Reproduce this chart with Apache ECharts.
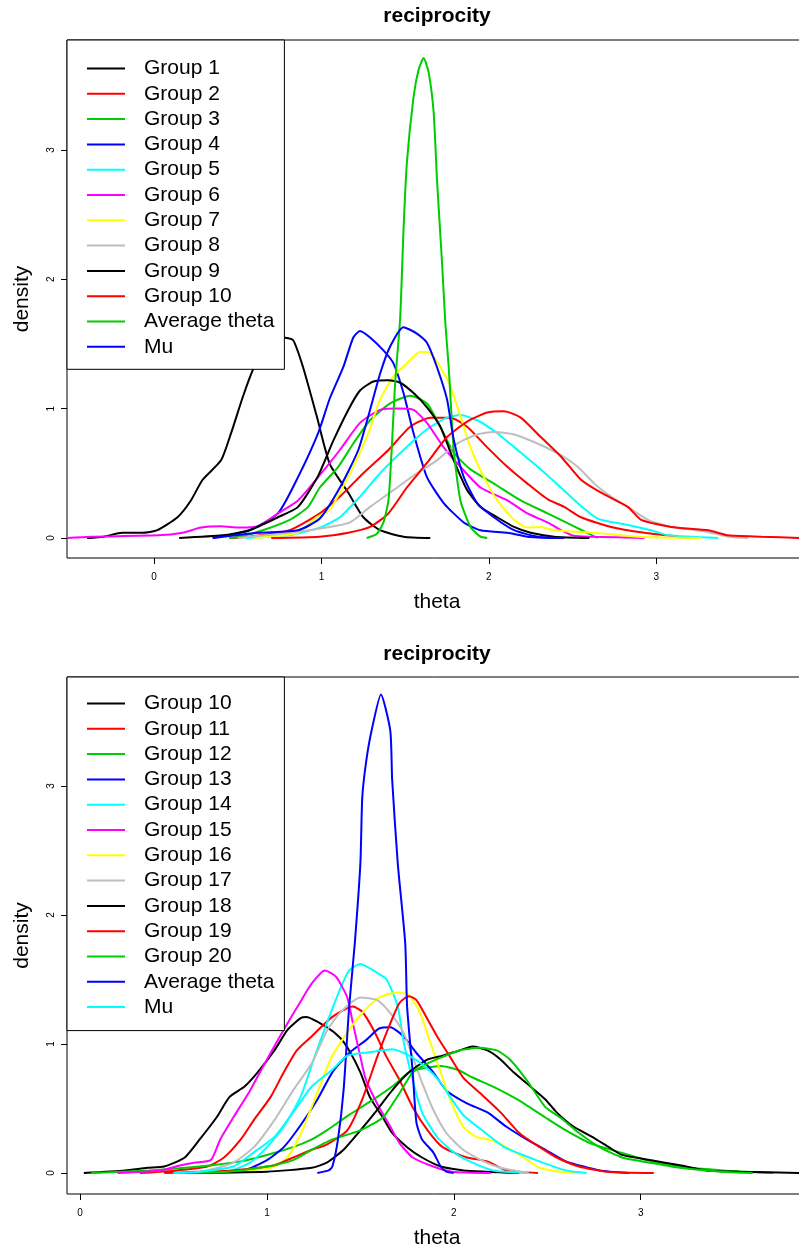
<!DOCTYPE html>
<html>
<head>
<meta charset="utf-8">
<script src="https://cdn.jsdelivr.net/npm/echarts@6/dist/echarts.min.js"></script>
<style>
  html, body { margin: 0; padding: 0; background: #fff; }
  .plot { width: 799px; }
</style>
</head>
<body>
<div id="top" class="plot" style="height:625px"></div>
<div id="bottom" class="plot" style="height:624px"></div>
<script>
// tick labels
const tickX = [0, 1, 2, 3];
const tickY = [0, 1, 2, 3];

// ---- top plot: groups 1-10 (theta, density) ----
const a_g1 = [[-0.40,0],[-0.30,0.01],[-0.19,0.04],[-0.07,0.04],[0.02,0.06],[0.14,0.16],[0.22,0.29],[0.29,0.45],[0.40,0.60],[0.46,0.81],[0.53,1.09],[0.59,1.30],[0.65,1.45],[0.72,1.53],[0.77,1.55],[0.83,1.53],[0.89,1.32],[0.97,0.95],[1.05,0.57],[1.16,0.35],[1.25,0.16],[1.35,0.06],[1.49,0.01],[1.65,0]];
const a_g2 = [[0.45,0],[0.57,0.01],[0.81,0.06],[0.99,0.19],[1.11,0.32],[1.25,0.50],[1.40,0.68],[1.53,0.86],[1.65,0.93],[1.77,0.93],[1.87,0.86],[1.99,0.70],[2.11,0.55],[2.23,0.42],[2.35,0.30],[2.45,0.24],[2.55,0.16],[2.73,0.085],[2.93,0.04],[3.13,0.01],[3.20,0]];
const a_g3 = [[0.45,0],[0.51,0.01],[0.65,0.06],[0.81,0.14],[0.92,0.24],[0.99,0.39],[1.10,0.55],[1.19,0.73],[1.29,0.91],[1.41,1.04],[1.53,1.10],[1.63,1.04],[1.71,0.86],[1.79,0.66],[1.89,0.53],[2.03,0.42],[2.19,0.29],[2.35,0.19],[2.43,0.14],[2.57,0.05],[2.65,0]];
const a_g4 = [[0.35,0],[0.57,0.06],[0.74,0.19],[0.86,0.47],[0.98,0.81],[1.05,1.08],[1.13,1.32],[1.19,1.55],[1.23,1.60],[1.29,1.55],[1.37,1.45],[1.43,1.35],[1.49,1.12],[1.55,0.81],[1.63,0.47],[1.73,0.27],[1.85,0.12],[1.95,0.06],[2.11,0.04],[2.23,0.01],[2.40,0]];
const a_g5 = [[0.55,0],[0.80,0.02],[0.99,0.08],[1.11,0.16],[1.23,0.32],[1.35,0.50],[1.49,0.68],[1.63,0.84],[1.75,0.93],[1.83,0.95],[1.93,0.91],[2.05,0.81],[2.19,0.66],[2.31,0.53],[2.43,0.39],[2.53,0.27],[2.65,0.15],[2.83,0.10],[2.97,0.06],[3.07,0.02],[3.37,0]];
const a_g6 = [[-0.52,0],[-0.38,0.01],[0.02,0.02],[0.17,0.04],[0.28,0.08],[0.40,0.09],[0.51,0.08],[0.62,0.09],[0.74,0.19],[0.86,0.29],[0.98,0.47],[1.11,0.68],[1.23,0.89],[1.35,0.99],[1.46,1.00],[1.55,0.99],[1.63,0.89],[1.73,0.70],[1.83,0.55],[1.95,0.39],[2.11,0.29],[2.23,0.19],[2.35,0.12],[2.43,0.06],[2.50,0.02],[2.60,0.01],[2.93,0]];
const a_g7 = [[0.60,0],[0.86,0.04],[0.97,0.16],[1.05,0.22],[1.11,0.35],[1.19,0.55],[1.28,0.81],[1.35,1.07],[1.43,1.25],[1.51,1.35],[1.59,1.44],[1.65,1.43],[1.71,1.32],[1.77,1.17],[1.83,0.94],[1.89,0.70],[1.97,0.47],[2.05,0.29],[2.15,0.14],[2.23,0.08],[2.31,0.085],[2.39,0.06],[2.63,0.04],[2.89,0.01],[3.27,0]];
const a_g8 = [[0.50,0],[0.81,0.04],[1.05,0.085],[1.17,0.12],[1.29,0.24],[1.43,0.37],[1.57,0.50],[1.69,0.60],[1.81,0.73],[1.93,0.80],[2.03,0.82],[2.15,0.80],[2.29,0.73],[2.43,0.64],[2.53,0.55],[2.63,0.42],[2.73,0.32],[2.83,0.24],[2.95,0.14],[3.09,0.085],[3.29,0.05],[3.43,0.01],[3.55,0]];
const a_g9 = [[0.15,0],[0.41,0.02],[0.57,0.06],[0.74,0.16],[0.86,0.24],[0.98,0.48],[1.07,0.75],[1.16,0.99],[1.23,1.14],[1.31,1.21],[1.40,1.22],[1.47,1.20],[1.55,1.12],[1.63,1.01],[1.71,0.86],[1.79,0.60],[1.87,0.37],[1.95,0.24],[2.05,0.16],[2.15,0.085],[2.25,0.04],[2.39,0.01],[2.60,0]];
const a_g10 = [[0.70,0],[0.99,0.01],[1.16,0.04],[1.29,0.085],[1.40,0.19],[1.51,0.39],[1.63,0.58],[1.75,0.78],[1.87,0.90],[1.99,0.97],[2.09,0.98],[2.19,0.93],[2.31,0.78],[2.43,0.63],[2.55,0.45],[2.67,0.35],[2.83,0.24],[2.91,0.14],[3.09,0.085],[3.31,0.06],[3.43,0.02],[3.63,0.01],[3.86,0]];
const a_avg = [[1.27,0],[1.33,0.03],[1.37,0.12],[1.40,0.29],[1.42,0.70],[1.44,1.20],[1.47,1.70],[1.49,2.38],[1.51,2.90],[1.55,3.41],[1.58,3.62],[1.61,3.71],[1.64,3.60],[1.67,3.29],[1.69,2.77],[1.72,2.13],[1.74,1.66],[1.76,1.32],[1.79,0.68],[1.83,0.29],[1.89,0.085],[1.95,0.01],[1.99,0]];
const a_mu = [[0.35,0],[0.62,0.04],[0.86,0.06],[0.99,0.15],[1.11,0.39],[1.22,0.68],[1.29,0.99],[1.35,1.27],[1.41,1.48],[1.49,1.63],[1.57,1.58],[1.63,1.51],[1.69,1.32],[1.75,1.07],[1.79,0.76],[1.85,0.47],[1.93,0.27],[2.03,0.16],[2.15,0.06],[2.29,0.01],[2.45,0]];

// ---- bottom plot: groups 10-20 ----
const b_g10 = [[0.02,0],[0.24,0.02],[0.36,0.04],[0.45,0.05],[0.56,0.12],[0.64,0.26],[0.73,0.43],[0.80,0.59],[0.88,0.67],[0.95,0.78],[1.04,0.95],[1.11,1.11],[1.18,1.20],[1.21,1.21],[1.32,1.13],[1.39,1.05],[1.44,0.95],[1.50,0.78],[1.55,0.59],[1.62,0.43],[1.67,0.31],[1.75,0.20],[1.83,0.12],[1.93,0.05],[2.05,0.02],[2.35,0]];
const b_g11 = [[0.32,0],[0.52,0.02],[0.68,0.05],[0.77,0.12],[0.86,0.26],[0.93,0.41],[1.02,0.59],[1.09,0.78],[1.16,0.95],[1.24,1.06],[1.35,1.21],[1.46,1.29],[1.51,1.25],[1.57,1.11],[1.64,0.90],[1.71,0.72],[1.78,0.51],[1.86,0.33],[1.94,0.20],[2.07,0.12],[2.18,0.09],[2.28,0.02],[2.45,0]];
const b_g12 = [[0.06,0],[0.37,0.02],[0.64,0.05],[0.86,0.09],[1.00,0.14],[1.14,0.20],[1.24,0.26],[1.32,0.33],[1.44,0.45],[1.57,0.57],[1.67,0.67],[1.76,0.78],[1.83,0.81],[1.93,0.83],[2.02,0.80],[2.10,0.74],[2.21,0.67],[2.34,0.57],[2.49,0.43],[2.60,0.33],[2.73,0.23],[2.89,0.16],[3.03,0.10],[3.21,0.05],[3.44,0.02],[3.71,0]];
const b_g13 = [[0.70,0],[0.88,0.02],[1.00,0.10],[1.09,0.20],[1.18,0.37],[1.27,0.57],[1.35,0.78],[1.44,0.93],[1.53,1.03],[1.60,1.12],[1.66,1.13],[1.73,1.06],[1.80,0.93],[1.89,0.78],[1.96,0.64],[2.07,0.54],[2.18,0.47],[2.28,0.36],[2.39,0.26],[2.49,0.18],[2.60,0.09],[2.78,0.02],[2.94,0]];
const b_g14 = [[0.70,0],[0.79,0.01],[0.91,0.08],[1.00,0.20],[1.09,0.36],[1.18,0.59],[1.25,0.88],[1.32,1.16],[1.39,1.42],[1.44,1.57],[1.50,1.62],[1.57,1.57],[1.64,1.50],[1.70,1.29],[1.73,1.03],[1.78,0.72],[1.83,0.47],[1.91,0.28],[2.00,0.16],[2.10,0.08],[2.21,0.02],[2.40,0]];
const b_g15 = [[0.20,0],[0.43,0.02],[0.54,0.06],[0.61,0.08],[0.70,0.10],[0.75,0.26],[0.82,0.43],[0.91,0.64],[1.00,0.88],[1.09,1.11],[1.18,1.33],[1.24,1.47],[1.31,1.57],[1.37,1.52],[1.43,1.36],[1.46,1.16],[1.50,0.90],[1.53,0.72],[1.60,0.51],[1.66,0.36],[1.71,0.23],[1.78,0.12],[1.89,0.05],[1.99,0.01],[2.20,0]];
const b_g16 = [[0.70,0],[0.91,0.02],[1.04,0.05],[1.11,0.12],[1.18,0.30],[1.25,0.55],[1.34,0.88],[1.43,1.09],[1.51,1.24],[1.60,1.36],[1.70,1.40],[1.76,1.38],[1.82,1.24],[1.87,1.03],[1.93,0.78],[1.98,0.57],[2.05,0.36],[2.12,0.28],[2.21,0.25],[2.33,0.16],[2.46,0.04],[2.57,0.01],[2.65,0]];
const b_g17 = [[0.50,0],[0.68,0.02],[0.82,0.08],[0.93,0.20],[1.04,0.41],[1.14,0.64],[1.24,0.85],[1.32,1.10],[1.39,1.24],[1.50,1.36],[1.59,1.34],[1.66,1.24],[1.73,1.09],[1.78,0.90],[1.83,0.70],[1.89,0.49],[1.96,0.31],[2.05,0.18],[2.16,0.09],[2.25,0.04],[2.40,0]];
const b_g18 = [[0.50,0],[1.00,0.01],[1.24,0.04],[1.32,0.08],[1.41,0.18],[1.50,0.33],[1.59,0.49],[1.67,0.64],[1.76,0.78],[1.86,0.88],[1.94,0.91],[2.03,0.95],[2.10,0.98],[2.18,0.95],[2.25,0.88],[2.32,0.78],[2.41,0.67],[2.49,0.57],[2.55,0.47],[2.64,0.36],[2.74,0.28],[2.83,0.20],[2.90,0.14],[3.05,0.10],[3.21,0.06],[3.35,0.02],[3.53,0.01],[3.85,0]];
const b_g19 = [[0.45,0],[0.82,0.02],[1.04,0.06],[1.14,0.12],[1.24,0.18],[1.32,0.22],[1.43,0.33],[1.51,0.57],[1.59,0.90],[1.66,1.16],[1.71,1.32],[1.76,1.37],[1.80,1.34],[1.86,1.19],[1.91,1.06],[1.98,0.90],[2.05,0.74],[2.14,0.62],[2.25,0.47],[2.35,0.31],[2.46,0.20],[2.55,0.12],[2.67,0.05],[2.82,0.01],[3.07,0]];
const b_g20 = [[0.50,0],[0.79,0.01],[1.00,0.05],[1.14,0.10],[1.24,0.18],[1.35,0.26],[1.50,0.33],[1.62,0.43],[1.71,0.62],[1.78,0.78],[1.86,0.85],[1.94,0.90],[2.03,0.95],[2.14,0.97],[2.23,0.95],[2.30,0.88],[2.39,0.72],[2.49,0.51],[2.57,0.43],[2.67,0.31],[2.78,0.20],[2.90,0.12],[3.05,0.08],[3.21,0.04],[3.44,0.01],[3.60,0]];
const b_avg = [[1.27,0],[1.33,0.02],[1.35,0.05],[1.38,0.26],[1.41,0.64],[1.44,1.29],[1.47,1.78],[1.50,2.40],[1.51,2.91],[1.53,3.18],[1.56,3.43],[1.61,3.71],[1.66,3.43],[1.67,3.05],[1.70,2.40],[1.74,1.78],[1.75,1.29],[1.78,0.78],[1.80,0.39],[1.83,0.26],[1.89,0.16],[1.93,0.05],[1.96,0.01],[2.00,0]];
const b_mu = [[0.50,0],[0.64,0.01],[0.82,0.05],[0.93,0.16],[1.04,0.28],[1.14,0.47],[1.24,0.67],[1.35,0.80],[1.43,0.91],[1.57,0.94],[1.67,0.96],[1.76,0.91],[1.85,0.82],[1.93,0.70],[1.98,0.59],[2.05,0.45],[2.17,0.31],[2.27,0.20],[2.44,0.10],[2.60,0.02],[2.71,0]];

const BLACK = '#000000', RED = '#FF0000', GREEN = '#00CD00', BLUE = '#0000FF',
      CYAN = '#00FFFF', MAGENTA = '#FF00FF', YELLOW = '#FFFF00', GRAY = '#BEBEBE';

const topSeries = [
  ['Group 1', a_g1, BLACK], ['Group 2', a_g2, RED], ['Group 3', a_g3, GREEN],
  ['Group 4', a_g4, BLUE], ['Group 5', a_g5, CYAN], ['Group 6', a_g6, MAGENTA],
  ['Group 7', a_g7, YELLOW], ['Group 8', a_g8, GRAY], ['Group 9', a_g9, BLACK],
  ['Group 10', a_g10, RED], ['Average theta', a_avg, GREEN], ['Mu', a_mu, BLUE]
];
const bottomSeries = [
  ['Group 10', b_g10, BLACK], ['Group 11', b_g11, RED], ['Group 12', b_g12, GREEN],
  ['Group 13', b_g13, BLUE], ['Group 14', b_g14, CYAN], ['Group 15', b_g15, MAGENTA],
  ['Group 16', b_g16, YELLOW], ['Group 17', b_g17, GRAY], ['Group 18', b_g18, BLACK],
  ['Group 19', b_g19, RED], ['Group 20', b_g20, GREEN], ['Average theta', b_avg, BLUE],
  ['Mu', b_mu, CYAN]
];

const FONT = '"Liberation Sans", Arial, sans-serif';
const LINE_ICON = 'path://M0,0L38,0L38,2L0,2Z';

function buildOption(p) {
  return {
    animation: false,
    title: {
      text: 'reciprocity',
      left: 437,
      top: p.titleTop,
      padding: 0,
      textAlign: 'center',
      textStyle: { fontFamily: FONT, fontSize: 21, fontWeight: 'bold', color: '#000' }
    },
    legend: {
      orient: 'vertical',
      left: 67,
      top: p.gridTop,
      padding: p.legendPad,
      icon: LINE_ICON,
      itemWidth: 38,
      itemHeight: 20,
      itemGap: 4.3,
      backgroundColor: '#fff',
      borderColor: '#000',
      borderWidth: 1,
      borderRadius: 0,
      selectedMode: false,
      textStyle: { fontFamily: FONT, fontSize: 21, color: '#000', lineHeight: 20, padding: [0, 0, 0, 14] },
      data: p.series.map(s => s[0])
    },
    grid: {
      left: 67, right: -8, top: p.gridTop, height: p.gridHeight,
      show: true, borderColor: '#000', borderWidth: 1,
      outerBoundsMode: 'none', containLabel: false
    },
    xAxis: {
      type: 'value',
      min: p.xMin, max: p.xMax,
      axisLine: { show: false, onZero: false },
      splitLine: { show: false },
      axisTick: { customValues: tickX, length: 6, lineStyle: { color: '#000' } },
      axisLabel: { customValues: tickX, fontFamily: FONT, fontSize: 10, color: '#000', margin: 14 },
      name: 'theta',
      nameLocation: 'middle',
      nameGap: 34,
      nameTextStyle: { fontFamily: FONT, fontSize: 21, color: '#000' }
    },
    yAxis: {
      type: 'value',
      min: p.yMin, max: p.yMax,
      axisLine: { show: false, onZero: false },
      splitLine: { show: false },
      axisTick: { customValues: tickY, length: 6, lineStyle: { color: '#000' } },
      axisLabel: { customValues: tickY, rotate: 90, fontFamily: FONT, fontSize: 10, color: '#000', margin: 11 },
      name: 'density',
      nameLocation: 'middle',
      nameGap: 34,
      nameTextStyle: { fontFamily: FONT, fontSize: 21, color: '#000' }
    },
    series: p.series.map(s => ({
      name: s[0],
      type: 'line',
      data: s[1],
      symbol: 'none',
      smooth: 0.2,
      lineStyle: { color: s[2], width: 2 },
      itemStyle: { color: s[2] }
    }))
  };
}

const topChart = echarts.init(document.getElementById('top'));
topChart.setOption(buildOption({
  titleTop: 6, gridTop: 40, gridHeight: 518, legendPad: [18, 10, 12, 20],
  xMin: -0.52, xMax: 3.90, yMin: -0.155, yMax: 3.85, series: topSeries
}));

const bottomChart = echarts.init(document.getElementById('bottom'));
bottomChart.setOption(buildOption({
  titleTop: 19, gridTop: 52, gridHeight: 517, legendPad: [16, 10, 13, 20],
  xMin: -0.07, xMax: 3.89, yMin: -0.163, yMax: 3.845, series: bottomSeries
}));
</script>
</body>
</html>
